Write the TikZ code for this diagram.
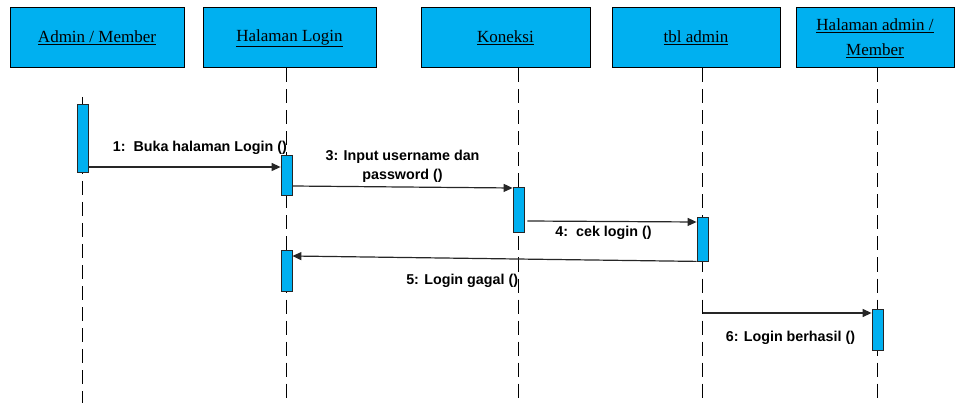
\documentclass[tikz,border=0pt]{standalone}
\usepackage{fontspec}
\setmainfont{Liberation Serif}
\newfontfamily\pesanfont{Liberation Sans}
\usetikzlibrary{arrows.meta, backgrounds}
\definecolor{birulangit}{RGB}{0,176,240}
\tikzset{
    objek/.style={draw=black, fill=birulangit, line width=1pt, minimum height=60pt, inner sep=0pt, align=center, font=\fontsize{17}{25}\selectfont},
    aktivasi/.style={draw=black!85, fill=birulangit, line width=0.8pt, minimum width=11pt, inner sep=0pt},
    garishidup/.style={draw=black, line width=1.9pt, dash pattern=on 14pt off 7pt},
    pesan/.style={draw=black!85, line width=1.2pt, -{Triangle[length=9pt,width=8pt]}},
    teks/.style={font=\pesanfont\bfseries\fontsize{14.3}{19}\selectfont, align=center}
}

\begin{document}
\begin{tikzpicture}[x=1pt, y=-1pt]
    \useasboundingbox (0,0) rectangle (955,403);
    \coordinate (bawah) at (0,403);
    \coordinate (awalAdmin) at (0,97);
    % Objek
    \node[objek, minimum width=174pt] (admin) at (97,38) {\underline{Admin / Member}};
    \node[objek, minimum width=173pt] (login) at (289.5,38) {\underline{Halaman Login}};
    \node[objek, minimum width=169pt] (koneksi) at (505.5,38) {\underline{Koneksi}};
    \node[objek, minimum width=168pt] (tbl) at (696,38) {\underline{tbl admin}};
    \node[objek, minimum width=158pt] (halaman) at (875,38) {\underline{Halaman admin /}\\\underline{Member}};
    % Aktivasi
    \node[aktivasi, minimum height=68pt] (aAdmin) at (82.5,138) {};
    \node[aktivasi, minimum height=40pt] (aLogin1) at (286.5,175) {};
    \node[aktivasi, minimum height=41pt] (aLogin2) at (286.5,270.5) {};
    \node[aktivasi, minimum height=45pt] (aKoneksi) at (518.5,209.5) {};
    \node[aktivasi, minimum height=44pt] (aTbl) at (702.5,239) {};
    \node[aktivasi, minimum height=41pt] (aHal) at (877.5,329.5) {};
    % Garis hidup
    \begin{scope}[on background layer]
        \draw[garishidup] (awalAdmin -| aAdmin) -- (aAdmin |- bawah);
        \draw[garishidup] (login.south -| aLogin1) -- (aLogin1 |- bawah);
        \draw[garishidup] (koneksi.south -| aKoneksi) -- (aKoneksi |- bawah);
        \draw[garishidup] (tbl.south -| aTbl) -- (aTbl |- bawah);
        \draw[garishidup] (halaman.south -| aHal) -- (aHal |- bawah);
    \end{scope}
    % Pesan
    \draw[pesan] ([yshift=-29pt]aAdmin.east) -- node[teks, pos=0.58, yshift=19pt] {1:\ \ Buka halaman Login ()} ([yshift=8pt]aLogin1.west);
    \draw[pesan] ([yshift=-11pt]aLogin1.east) -- node[teks, midway, yshift=21pt] {3: Input username dan\\password ()} ([yshift=21.5pt]aKoneksi.west);
    \draw[pesan] ([xshift=3pt, yshift=-11.5pt]aKoneksi.east) -- node[teks, pos=0.45, yshift=-11pt] {4:\ \ cek login ()} ([yshift=17pt]aTbl.west);
    \draw[pesan] (aTbl.south west) -- node[teks, pos=0.58, yshift=-23pt] {5: Login gagal ()} ([yshift=14.5pt]aLogin2.east);
    \coordinate (m6) at ([yshift=16.5pt]aHal.west);
    \draw[pesan] (m6 -| aTbl) -- node[teks, pos=0.52, yshift=-25pt] {6: Login berhasil ()} (m6);
\end{tikzpicture}
\end{document}
